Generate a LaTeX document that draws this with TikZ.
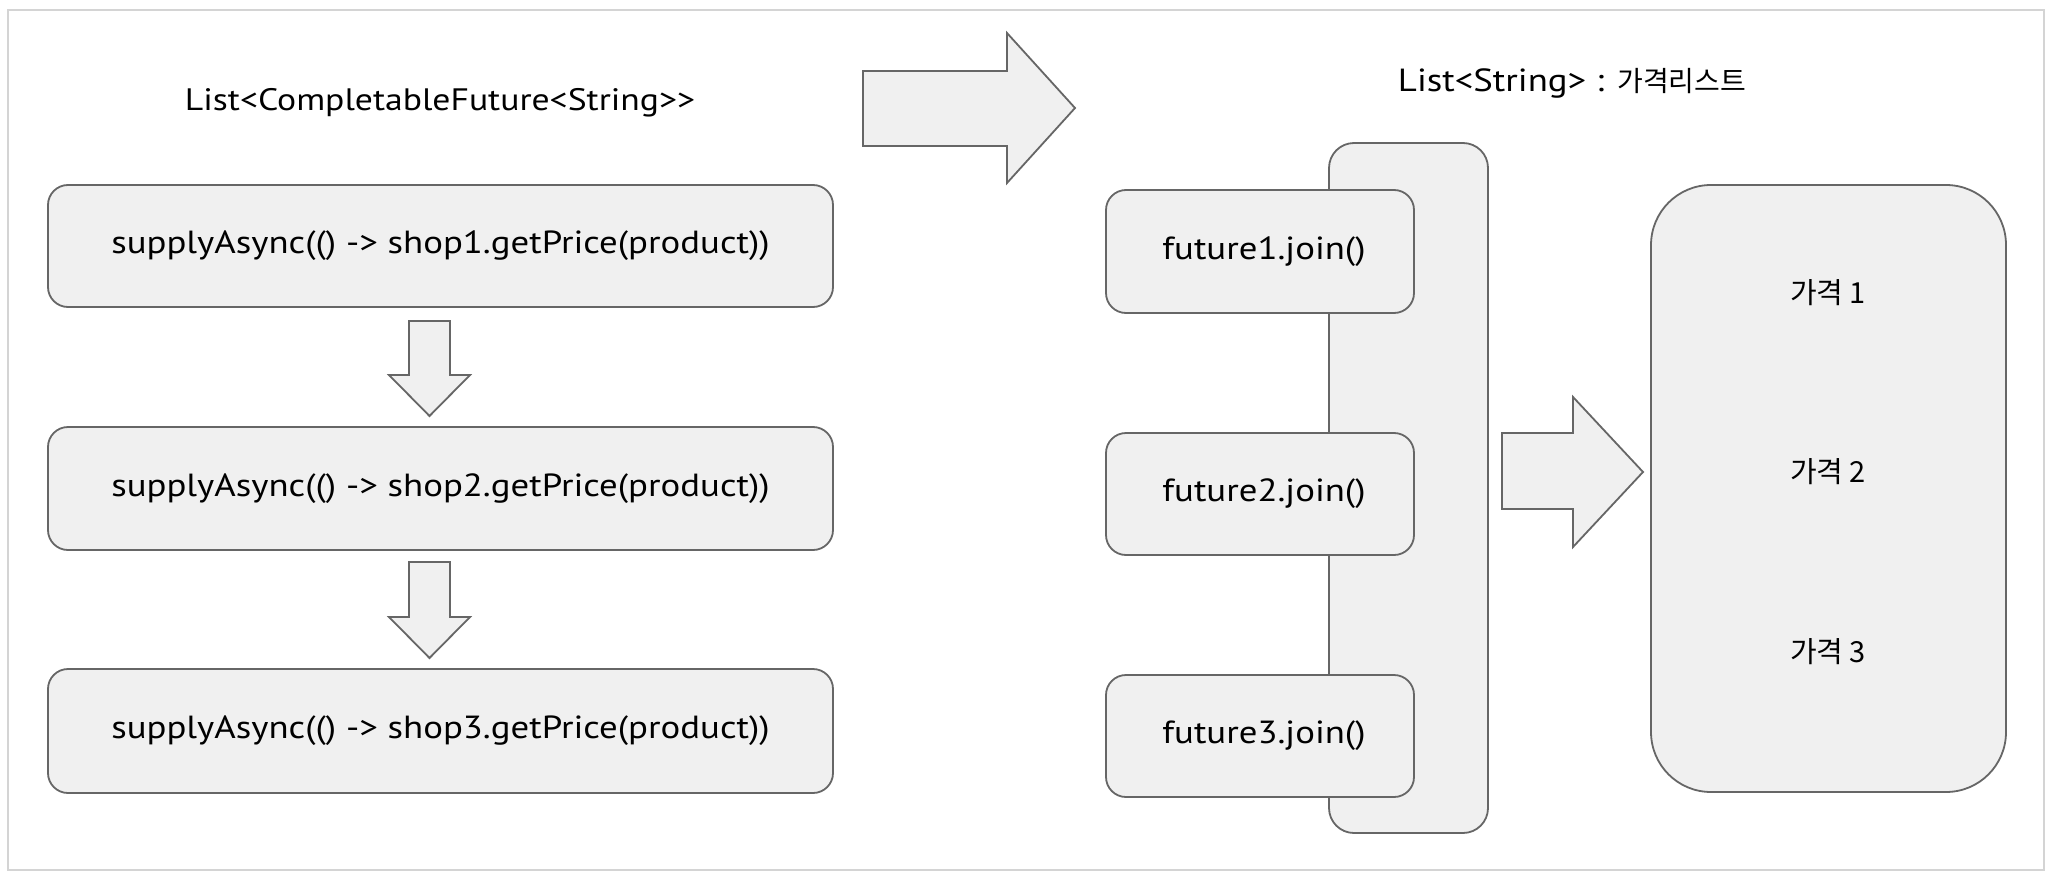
\documentclass[tikz,border=0pt]{standalone}
\usepackage{fontspec}
\setmainfont{PT Sans}[FakeStretch=1.15,Ligatures=NoCommon]
\newfontfamily\kr{Noto Sans CJK KR}
\definecolor{boxfill}{HTML}{F0F0F0}
\definecolor{boxline}{HTML}{666666}
\definecolor{frameline}{HTML}{D4D4D4}
\begin{document}
\begin{tikzpicture}[x=1pt,y=-1pt,
  txt/.style={font=\fontsize{32}{36}\selectfont, inner sep=0pt},
  krtxt/.style={font=\kr\fontsize{29}{33}\selectfont, inner sep=0pt},
  rbox/.style={draw=boxline, fill=boxfill, line width=1.8pt, rounded corners=20pt, inner sep=0pt, txt},
  blockarrow/.style={draw=boxline, fill=boxfill, line width=1.8pt, line join=miter},
]
\useasboundingbox (0,0) rectangle (2052,880);
\fill[white] (0,0) rectangle (2052,880);
\draw[frameline, line width=1.5pt] (8,10) rectangle (2044,870);

% left column
\node[txt, font=\fontsize{31}{35}\selectfont] (ltitle) at (440,103) {List<CompletableFuture<String>{}>};
\node[rbox, minimum width=785pt, minimum height=122pt] (s1) at (440.5,246) {supplyAsync(() -> shop1.getPrice(product))};
\node[rbox, minimum width=785pt, minimum height=123pt] (s2) at (440.5,488.5) {supplyAsync(() -> shop2.getPrice(product))};
\node[rbox, minimum width=785pt, minimum height=124pt] (s3) at (440.5,731) {supplyAsync(() -> shop3.getPrice(product))};

% down arrows
\draw[blockarrow] (409,321) -- (450,321) -- (450,375) -- (470,375) -- (429.5,416) -- (389,375) -- (409,375) -- cycle;
\draw[blockarrow] (409,562) -- (450,562) -- (450,617) -- (470,617) -- (429.5,658) -- (389,617) -- (409,617) -- cycle;

% big right arrow
\draw[blockarrow] (863,71) -- (1007,71) -- (1007,33) -- (1075,108) -- (1007,183) -- (1007,146) -- (863,146) -- cycle;

% right column
\node[txt] (rtitle) at (1572,83) {List<String> : {\kr\fontsize{28}{32}\selectfont 가격리스트}};
\node[draw=boxline, fill=boxfill, line width=1.8pt, rounded corners=25pt, minimum width=159pt, minimum height=690pt, inner sep=0pt] (back) at (1408.5,488) {};
\node[rbox, minimum width=308pt, minimum height=123pt] (f1) at (1260,251.5) {\hspace{8pt}future1.join()};
\node[rbox, minimum width=308pt, minimum height=122pt] (f2) at (1260,494) {\hspace{8pt}future2.join()};
\node[rbox, minimum width=308pt, minimum height=122pt] (f3) at (1260,736) {\hspace{8pt}future3.join()};

% right arrow 2
\draw[blockarrow] (1502,433) -- (1573,433) -- (1573,397) -- (1643,472) -- (1573,547) -- (1573,509) -- (1502,509) -- cycle;

% price list box
\node[draw=boxline, fill=boxfill, line width=1.8pt, rounded corners=60pt, minimum width=355pt, minimum height=607pt, inner sep=0pt] (prices) at (1828.5,488.5) {};
\node[krtxt] (p1) at (1828,293) {가격 1};
\node[krtxt] (p2) at (1828,472) {가격 2};
\node[krtxt] (p3) at (1828,652) {가격 3};
\end{tikzpicture}
\end{document}
